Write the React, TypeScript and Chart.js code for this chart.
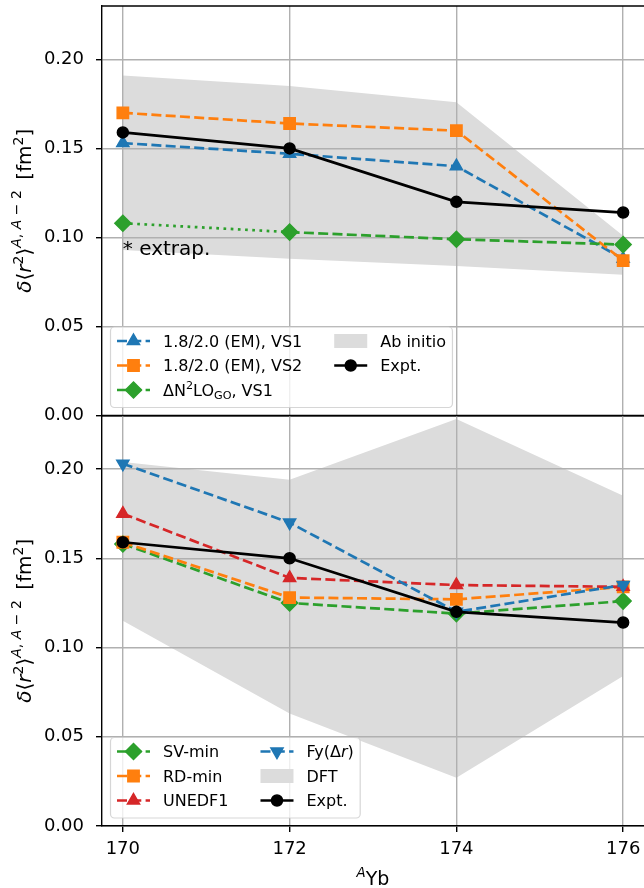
import { useEffect, useRef } from 'react';
import { Chart, registerables } from 'chart.js';
import { drawPoint } from 'chart.js/helpers';

Chart.register(...registerables);

// Mass numbers of the ytterbium isotopes on the x axis
const isotopes = [170, 172, 174, 176];
const xTickValues = [170, 172, 174, 176];
const yTickValues = [0, 0.05, 0.1, 0.15, 0.2];

// δ<r²>^{A,A-2} in fm²
const expt = [0.159, 0.150, 0.120, 0.114];

// Ab initio panel
const emVs1 = [0.153, 0.147, 0.140, 0.088];
const emVs2 = [0.170, 0.164, 0.160, 0.087];
const dn2loVs1 = [0.108, 0.103, 0.099, 0.096];
const abInitioUpper = [0.191, 0.185, 0.176, 0.101];
const abInitioLower = [0.093, 0.088, 0.084, 0.079];

// DFT panel
const svMin = [0.158, 0.125, 0.119, 0.126];
const rdMin = [0.159, 0.128, 0.127, 0.134];
const unedf1 = [0.175, 0.139, 0.135, 0.134];
const fyDr = [0.203, 0.170, 0.120, 0.135];
const dftUpper = [0.204, 0.194, 0.228, 0.185];
const dftLower = [0.115, 0.063, 0.027, 0.084];

const FAMILY = '"DejaVu Sans", "Liberation Sans", sans-serif';
const BLUE = '#1f77b4';
const ORANGE = '#ff7f0e';
const GREEN = '#2ca02c';
const RED = '#d62728';
const BLACK = '#000000';
const BAND = '#dcdcdc';
const GRID = '#b0b0b0';
const LW = 2.7;
const DASH = [10, 4.3];
const DOT = [2.7, 4.5];

type Run = { t: string; it?: boolean; sup?: number; sub?: boolean };

type Series = {
  runs: Run[];
  values: number[];
  color: string;
  dash: number[];
  point: string;
  radius: number;
  rotation?: number;
  dotFirst?: boolean;
};

type LegendEntry = { runs: Run[]; color: string; series?: Series };

function runFont(size: number, r: Run) {
  const s = r.sup !== undefined || r.sub ? size * 0.7 : size;
  return `${r.it ? 'italic ' : ''}${s}px ${FAMILY}`;
}

function measureRuns(ctx: CanvasRenderingContext2D, runs: Run[], size: number) {
  let w = 0;
  for (const r of runs) {
    ctx.font = runFont(size, r);
    w += ctx.measureText(r.t).width;
  }
  return w;
}

function drawRuns(ctx: CanvasRenderingContext2D, runs: Run[], x: number, y: number, size: number) {
  let cx = x;
  ctx.textAlign = 'left';
  ctx.textBaseline = 'alphabetic';
  ctx.fillStyle = '#000';
  for (const r of runs) {
    ctx.font = runFont(size, r);
    const dy = r.sup !== undefined ? -r.sup * size : r.sub ? 0.2 * size : 0;
    ctx.fillText(r.t, cx, y + dy);
    cx += ctx.measureText(r.t).width;
  }
}

const sExpt: Series = { runs: [{ t: 'Expt.' }], values: expt, color: BLACK, dash: [], point: 'circle', radius: 5.5 };
const sEmVs1: Series = { runs: [{ t: '1.8/2.0 (EM), VS1' }], values: emVs1, color: BLUE, dash: DASH, point: 'triangle', radius: 7 };
const sEmVs2: Series = { runs: [{ t: '1.8/2.0 (EM), VS2' }], values: emVs2, color: ORANGE, dash: DASH, point: 'rect', radius: 8 };
const sDn2lo: Series = {
  runs: [{ t: 'ΔN' }, { t: '2', sup: 0.4 }, { t: 'LO' }, { t: 'GO', sub: true }, { t: ', VS1' }],
  values: dn2loVs1, color: GREEN, dash: DASH, point: 'rectRot', radius: 8, dotFirst: true,
};
const sSvMin: Series = { runs: [{ t: 'SV-min' }], values: svMin, color: GREEN, dash: DASH, point: 'rectRot', radius: 8 };
const sRdMin: Series = { runs: [{ t: 'RD-min' }], values: rdMin, color: ORANGE, dash: DASH, point: 'rect', radius: 8 };
const sUnedf1: Series = { runs: [{ t: 'UNEDF1' }], values: unedf1, color: RED, dash: DASH, point: 'triangle', radius: 7 };
const sFy: Series = {
  runs: [{ t: 'Fy(Δ' }, { t: 'r', it: true }, { t: ')' }],
  values: fyDr, color: BLUE, dash: DASH, point: 'triangle', radius: 7, rotation: 180,
};

function lineDataset(s: Series) {
  return {
    type: 'line',
    data: isotopes.map((x, i) => ({ x, y: s.values[i] })),
    borderColor: s.color,
    backgroundColor: s.color,
    borderWidth: LW,
    borderDash: s.dash,
    pointStyle: s.point,
    pointRadius: s.radius,
    pointHoverRadius: s.radius,
    pointRotation: s.rotation ?? 0,
    pointBorderWidth: 1.5,
    pointBackgroundColor: s.color,
    pointBorderColor: s.color,
    fill: false,
    tension: 0,
    segment: s.dotFirst
      ? { borderDash: (ctx: any) => (ctx.p0DataIndex === 0 ? DOT : undefined) }
      : undefined,
  };
}

function bandDatasets(upper: number[], lower: number[]) {
  const pts = (v: number[]) => isotopes.map((x, i) => ({ x, y: v[i] }));
  return [
    { type: 'line', data: pts(upper), borderColor: 'rgba(0,0,0,0)', borderWidth: 0, pointRadius: 0, fill: '+1', backgroundColor: BAND },
    { type: 'line', data: pts(lower), borderColor: 'rgba(0,0,0,0)', borderWidth: 0, pointRadius: 0, fill: false },
  ];
}

function drawLegend(ctx: CanvasRenderingContext2D, a: any, columns: LegendEntry[][]) {
  const fs = 16;
  const pitch = 24.5;
  const handleLen = 33;
  const pad = 6.5;
  const frameH = 80.5;
  const left = a.left + 8.5;
  const bottom = a.bottom - 8;
  const top = bottom - frameH;
  const colX: number[] = [];
  let x = left + pad;
  for (const col of columns) {
    const tw = Math.max(...col.map((e) => measureRuns(ctx, e.runs, fs)));
    colX.push(x);
    x += handleLen + 13 + tw + 32;
  }
  const right = x - 32 + pad;

  // frame
  const r = 4;
  ctx.beginPath();
  ctx.moveTo(left + r, top);
  ctx.arcTo(right, top, right, bottom, r);
  ctx.arcTo(right, bottom, left, bottom, r);
  ctx.arcTo(left, bottom, left, top, r);
  ctx.arcTo(left, top, right, top, r);
  ctx.closePath();
  ctx.fillStyle = 'rgba(255,255,255,0.8)';
  ctx.fill();
  ctx.setLineDash([]);
  ctx.lineWidth = 1.2;
  ctx.strokeStyle = 'rgba(204,204,204,0.8)';
  ctx.stroke();

  columns.forEach((col, ci) => {
    col.forEach((e, ri) => {
      const cy = top + 14 + ri * pitch;
      const hx = colX[ci];
      if (!e.series) {
        ctx.fillStyle = e.color;
        ctx.fillRect(hx, cy - 7, handleLen, 14);
      } else {
        const s = e.series;
        ctx.strokeStyle = s.color;
        ctx.lineWidth = LW;
        ctx.setLineDash(s.dash);
        ctx.beginPath();
        ctx.moveTo(hx, cy);
        ctx.lineTo(hx + handleLen, cy);
        ctx.stroke();
        ctx.setLineDash([]);
        ctx.fillStyle = s.color;
        ctx.lineWidth = 1.5;
        drawPoint(ctx, { pointStyle: s.point as any, radius: s.radius, rotation: s.rotation ?? 0, borderWidth: 1.5 } as any, hx + handleLen / 2, cy);
      }
      drawRuns(ctx, e.runs, hx + handleLen + 13, cy + 0.36 * fs, fs);
    });
  });
}

// δ⟨r²⟩^{A,A−2} [fm²], set with math-style spacing
const yTitle: Run[] = [
  { t: 'δ', it: true },
  { t: '⟨' },
  { t: 'r', it: true },
  { t: '2', sup: 0.42 },
  { t: '⟩' },
  { t: 'A', it: true, sup: 0.5 },
  { t: ', ', sup: 0.5 },
  { t: 'A', it: true, sup: 0.5 },
  { t: ' − ', sup: 0.5 },
  { t: '2', sup: 0.5 },
  { t: ' \u2009[fm' },
  { t: '2', sup: 0.42 },
  { t: ']' },
];

const xTitle: Run[] = [{ t: 'A', it: true, sup: 0.42 }, { t: 'Yb' }];

type PanelCfg = {
  id: string;
  columns: LegendEntry[][];
  xTitle?: Run[];
  note?: { x: number; y: number; text: string };
};

function panelPlugin(cfg: PanelCfg) {
  return {
    id: cfg.id,
    afterDraw(chart: any) {
      const { ctx, chartArea: a, scales } = chart;
      ctx.save();
      // upper spine of the panel
      ctx.setLineDash([]);
      ctx.strokeStyle = '#000';
      ctx.lineWidth = 1.4;
      ctx.beginPath();
      ctx.moveTo(a.left - 0.7, a.top);
      ctx.lineTo(a.right, a.top);
      ctx.stroke();

      if (cfg.note) {
        ctx.font = `20px ${FAMILY}`;
        ctx.fillStyle = '#000';
        ctx.textAlign = 'left';
        ctx.textBaseline = 'alphabetic';
        ctx.fillText(cfg.note.text, scales.x.getPixelForValue(cfg.note.x), scales.y.getPixelForValue(cfg.note.y));
      }

      drawLegend(ctx, a, cfg.columns);

      // rotated y-axis title
      ctx.save();
      ctx.translate(31, (a.top + a.bottom) / 2);
      ctx.rotate(-Math.PI / 2);
      const wy = measureRuns(ctx, yTitle, 20);
      drawRuns(ctx, yTitle, -wy / 2, 0, 20);
      ctx.restore();

      if (cfg.xTitle) {
        const wx = measureRuns(ctx, cfg.xTitle, 19);
        drawRuns(ctx, cfg.xTitle, (a.left + a.right) / 2 - wx / 2, chart.height - 3, 19);
      }
      ctx.restore();
    },
  };
}

function panelOptions(showX: boolean, xHeight: number, padTop: number) {
  const grid = { color: GRID, lineWidth: 1.4, tickColor: '#000', tickLength: 6, tickWidth: 1.4 };
  return {
    responsive: false,
    animation: false,
    events: [],
    layout: { autoPadding: false, padding: { top: padTop, left: 0, right: 0, bottom: 0 } },
    plugins: {
      legend: { display: false },
      tooltip: { enabled: false },
      filler: { drawTime: 'beforeDraw' },
    },
    scales: {
      x: {
        type: 'linear',
        min: 169.75,
        max: 176.25,
        afterBuildTicks: (s: any) => {
          s.ticks = xTickValues.map((v) => ({ value: v }));
        },
        ticks: {
          display: showX,
          color: '#000',
          font: { family: FAMILY, size: 18 },
          padding: 7,
          maxRotation: 0,
          autoSkip: false,
          callback: (v: any) => String(v),
        },
        grid: { ...grid, drawTicks: showX },
        border: { color: '#000', width: 1.4 },
        afterFit: (s: any) => {
          s.height = xHeight;
          s.paddingLeft = 0;
          s.paddingRight = 0;
        },
      },
      y: {
        type: 'linear',
        min: 0,
        max: 0.23,
        afterBuildTicks: (s: any) => {
          s.ticks = yTickValues.map((v) => ({ value: v }));
        },
        ticks: {
          color: '#000',
          font: { family: FAMILY, size: 18 },
          padding: 12,
          callback: (v: any) => Number(v).toFixed(2),
        },
        grid,
        border: { color: '#000', width: 1.4 },
        afterFit: (s: any) => {
          s.width = 102;
          s.paddingTop = 0;
          s.paddingBottom = 0;
        },
      },
    },
  };
}

export default function App() {
  const topRef = useRef<HTMLCanvasElement>(null);
  const bottomRef = useRef<HTMLCanvasElement>(null);

  useEffect(() => {
    const top = new Chart(topRef.current as HTMLCanvasElement, {
      type: 'line',
      data: {
        datasets: [
          lineDataset(sExpt),
          lineDataset(sDn2lo),
          lineDataset(sEmVs2),
          lineDataset(sEmVs1),
          ...bandDatasets(abInitioUpper, abInitioLower),
        ] as any,
      },
      options: panelOptions(false, 14.5, 6) as any,
      plugins: [
        panelPlugin({
          id: 'abInitioPanel',
          columns: [
            [
              { runs: sEmVs1.runs, color: BLUE, series: sEmVs1 },
              { runs: sEmVs2.runs, color: ORANGE, series: sEmVs2 },
              { runs: sDn2lo.runs, color: GREEN, series: sDn2lo },
            ],
            [
              { runs: [{ t: 'Ab initio' }], color: BAND },
              { runs: sExpt.runs, color: BLACK, series: sExpt },
            ],
          ],
          note: { x: 170, y: 0.09, text: '* extrap.' },
        }),
      ],
    });

    const bottom = new Chart(bottomRef.current as HTMLCanvasElement, {
      type: 'line',
      data: {
        datasets: [
          lineDataset(sExpt),
          lineDataset(sFy),
          lineDataset(sUnedf1),
          lineDataset(sRdMin),
          lineDataset(sSvMin),
          ...bandDatasets(dftUpper, dftLower),
        ] as any,
      },
      options: panelOptions(true, 62, 10.5) as any,
      plugins: [
        panelPlugin({
          id: 'dftPanel',
          columns: [
            [
              { runs: sSvMin.runs, color: GREEN, series: sSvMin },
              { runs: sRdMin.runs, color: ORANGE, series: sRdMin },
              { runs: sUnedf1.runs, color: RED, series: sUnedf1 },
            ],
            [
              { runs: sFy.runs, color: BLUE, series: sFy },
              { runs: [{ t: 'DFT' }], color: BAND },
              { runs: sExpt.runs, color: BLACK, series: sExpt },
            ],
          ],
          xTitle,
        }),
      ],
    });

    return () => {
      top.destroy();
      bottom.destroy();
    };
  }, []);

  return (
    <div style={{ position: 'absolute', left: 0, top: 0, width: 644, height: 888, background: '#fff', overflow: 'hidden' }}>
      <canvas ref={topRef} width={644} height={430} style={{ position: 'absolute', left: 0, top: 0, width: 644, height: 430 }} />
      <canvas ref={bottomRef} width={644} height={483} style={{ position: 'absolute', left: 0, top: 405, width: 644, height: 483 }} />
    </div>
  );
}
